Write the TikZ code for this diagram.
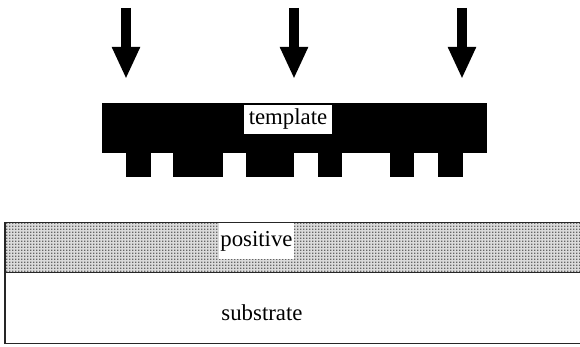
\documentclass[tikz,border=0pt]{standalone}
\usepackage{fontspec}
\setmainfont{Liberation Serif}
\newfontfamily\labelfont{Liberation Serif}
\usepackage{tikz}
\usetikzlibrary{arrows.meta}
\usetikzlibrary{patterns}
\definecolor{D}{gray}{0.86}
\definecolor{E}{gray}{0.40}
\pgfdeclarepatternformonly{finedots}{\pgfpointorigin}{\pgfpoint{1.5pt}{1.5pt}}{\pgfpoint{1.5pt}{1.5pt}}{%
    \pgfpathrectangle{\pgfpointorigin}{\pgfpoint{0.9pt}{0.9pt}}\pgfusepath{fill}}
\tikzstyle{base}=[x=0.5pt, y=-0.5pt, inner sep=0pt, outer sep=0pt]
\tikzstyle{press}=[line width=5pt, -{Triangle[length=16pt, width=13pt]}]
\tikzstyle{tag}=[fill=white, inner xsep=0.5pt, inner ysep=2.5pt]
\begin{document}
\begin{tikzpicture}[base]
    \labelfont \fontsize{11.4}{13}\selectfont
        \path [use as bounding box] (0,0) rectangle (580,347);
        % pressing arrows
        \coordinate (p1) at (126,8);   \coordinate (q1) at (126,79);
        \coordinate (p2) at (294,8);   \coordinate (q2) at (294,79);
        \coordinate (p3) at (462,8);   \coordinate (q3) at (462,79);
        \draw [press] (p1) -- (q1);
        \draw [press] (p2) -- (q2);
        \draw [press] (p3) -- (q3);
        % template
        \fill [black] (102,103) rectangle (487,153);
        \foreach \a/\b in {126/151, 173/223, 246/294, 318/342, 390/414, 438/463}
            \fill [black] (\a,153) rectangle (\b,177);
        \node [tag, inner xsep=2.25pt, inner ysep=2pt] (tmpl) at (288,119.5) {template};
        % positive layer
        \fill [D] (5,223) rectangle (600,273);
        \fill [pattern=finedots, pattern color=E] (5,223) rectangle (600,273);
        \draw [black!85, line width=0.5pt] (5,223) rectangle (600,273);
        \node [tag, anchor=north] (pos) at (256.5,223) {\strut positive};
        % substrate
        \draw [black!85, line width=0.5pt] (5,273) rectangle (600,344);
        \node (sub) at (262,313) {substrate};
    \end{tikzpicture}
\end{document}
